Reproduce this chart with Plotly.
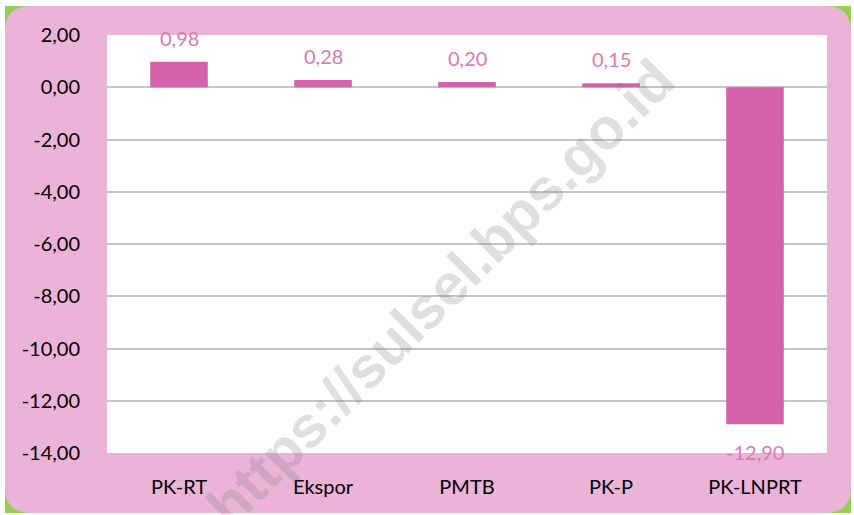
import plotly.graph_objects as go

# Data
kategori = ["PK-RT", "Ekspor", "PMTB", "PK-P", "PK-LNPRT"]
nilai = [0.98, 0.28, 0.20, 0.15, -12.90]
y_ticks = [2, 0, -2, -4, -6, -8, -10, -12, -14]

WARNA_BAR = "#D462AA"
WARNA_LABEL = "#DE78BC"
WARNA_BG = "#EBB3D8"
WARNA_HIJAU = "#92D050"
FONT = "Lato"

W, H = 854, 515
ML, MR, MT, MB = 107, 27, 35, 62
PW, PH = W - ML - MR, H - MT - MB


def px_x(p):
    return (p - ML) / PW


def px_y(p):
    return (H - MB - p) / PH


def fmt(v):
    return f"{v:.2f}".replace(".", ",")


def rounded_rect(x0, y0, x1, y1, r):
    # path in paper coordinates from pixel values
    X = lambda v: f"{px_x(v):.5f}"
    Y = lambda v: f"{px_y(v):.5f}"
    return (
        f"M {X(x0 + r)},{Y(y0)} L {X(x1 - r)},{Y(y0)} "
        f"Q {X(x1)},{Y(y0)} {X(x1)},{Y(y0 + r)} "
        f"L {X(x1)},{Y(y1 - r)} Q {X(x1)},{Y(y1)} {X(x1 - r)},{Y(y1)} "
        f"L {X(x0 + r)},{Y(y1)} Q {X(x0)},{Y(y1)} {X(x0)},{Y(y1 - r)} "
        f"L {X(x0)},{Y(y0 + r)} Q {X(x0)},{Y(y0)} {X(x0 + r)},{Y(y0)} Z"
    )


fig = go.Figure()

fig.add_trace(go.Bar(
    x=kategori, y=nilai,
    marker=dict(color=WARNA_BAR, line=dict(width=0)),
    width=0.4,
    hoverinfo="skip",
))

annotations = []
for k, v in zip(kategori, nilai):
    annotations.append(dict(
        x=k, y=v, xref="x", yref="y",
        text=fmt(v),
        showarrow=False,
        yanchor="middle",
        yshift=24 if v >= 0 else -28,
        font=dict(family=FONT, size=20, color=WARNA_LABEL),
    ))

# watermark
annotations.append(dict(
    x=px_x(440), y=px_y(292), xref="paper", yref="paper",
    text="https://sulsel.bps.go.id",
    showarrow=False, textangle=-45,
    font=dict(family="Liberation Sans", size=58, color="rgba(120,120,120,0.24)", weight="bold"),
))

shapes = [
    dict(type="rect", xref="paper", yref="paper", layer="below",
         x0=px_x(5), x1=px_x(851), y0=px_y(6), y1=px_y(513),
         fillcolor=WARNA_HIJAU, line=dict(width=0)),
    dict(type="path", xref="paper", yref="paper", layer="below",
         path=rounded_rect(5, 6, 851, 513, 26),
         fillcolor=WARNA_BG, line=dict(width=0)),
    dict(type="rect", xref="paper", yref="paper", layer="below",
         x0=0, x1=1, y0=0, y1=1,
         fillcolor="white", line=dict(width=0)),
]

fig.update_layout(
    width=W, height=H,
    margin=dict(l=ML, r=MR, t=MT, b=MB, autoexpand=False),
    paper_bgcolor="white",
    plot_bgcolor="white",
    showlegend=False,
    font=dict(family=FONT, size=20, color="black"),
    annotations=annotations,
    shapes=shapes,
)

fig.update_yaxes(
    range=[-14, 2],
    tickvals=y_ticks,
    ticktext=[fmt(t) for t in y_ticks],
    showgrid=True, gridcolor="#C4C4C4", gridwidth=1.5,
    zeroline=True, zerolinecolor="#C4C4C4", zerolinewidth=1.5,
    ticks="outside", ticklen=22, tickcolor="rgba(0,0,0,0)",
    showline=False, automargin=False,
    tickfont=dict(family=FONT, size=20, color="black"),
)
fig.update_xaxes(
    showgrid=False,
    ticks="outside", ticklen=16, tickcolor="rgba(0,0,0,0)",
    showline=False, automargin=False,
    tickfont=dict(family=FONT, size=20, color="black"),
)

fig.write_html(
    "out.html",
    config={"displayModeBar": False},
    post_script="document.body.style.margin='0';",
)
